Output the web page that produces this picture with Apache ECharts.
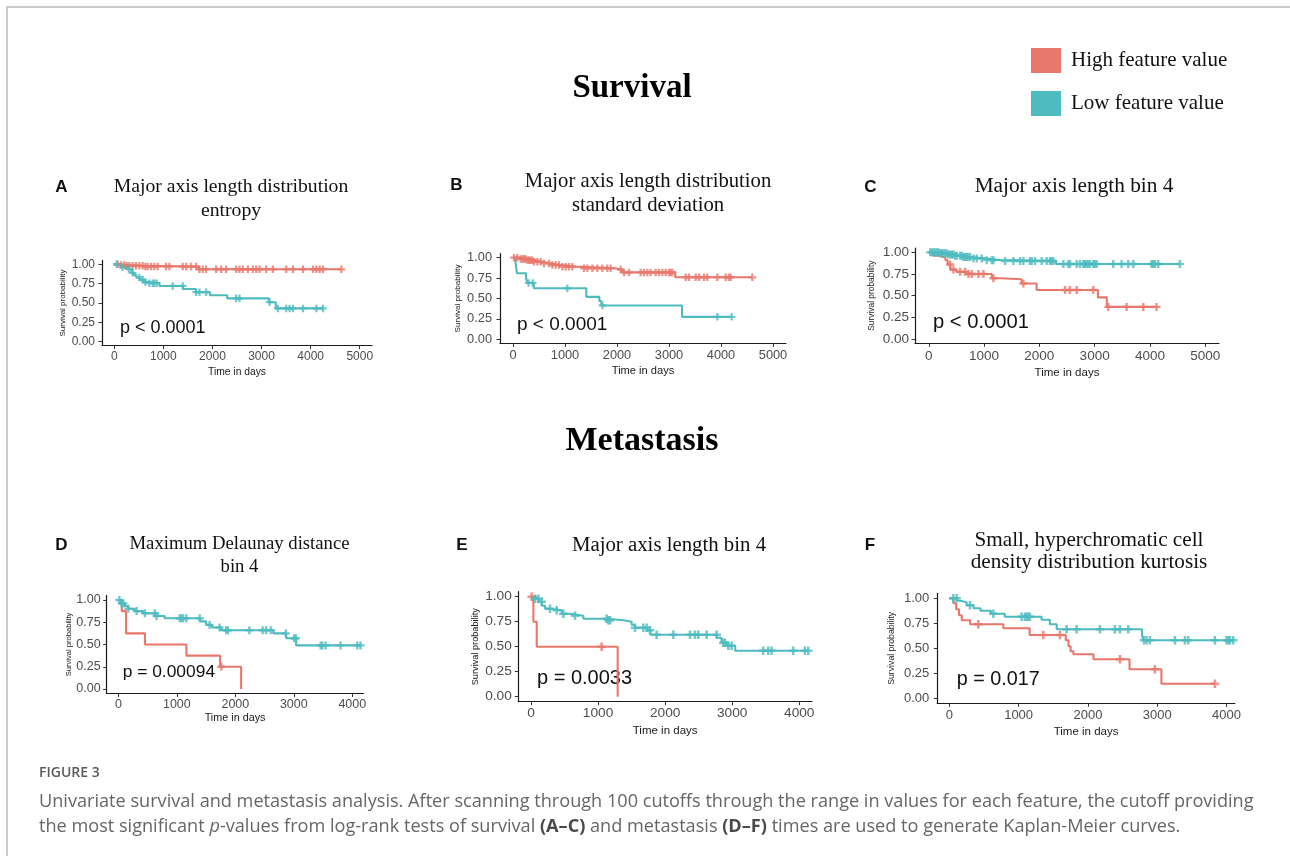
<!DOCTYPE html>
<html><head><meta charset="utf-8">
<script src="https://cdn.jsdelivr.net/npm/echarts@6/dist/echarts.min.js"></script>
<style>html,body{margin:0;padding:0;background:#fff}#c{width:1290px;height:856px}</style>
</head><body><div id="c"></div><script>
// ---------- names, ticks ----------
const HIGH_NAME = 'High feature value';
const LOW_NAME = 'Low feature value';
const xTicks5000 = [0, 1000, 2000, 3000, 4000, 5000];
const xTicks4000 = [0, 1000, 2000, 3000, 4000];
const yTicks = [0, 0.25, 0.5, 0.75, 1];
const pLabels = ['p < 0.0001', 'p < 0.0001', 'p < 0.0001', 'p = 0.00094', 'p = 0.0033', 'p = 0.017'];
const panelLetters = ['A', 'B', 'C', 'D', 'E', 'F'];
const panelTitles = [
  'Major axis length distribution\nentropy',
  'Major axis length distribution\nstandard deviation',
  'Major axis length bin 4',
  'Maximum Delaunay distance\nbin 4',
  'Major axis length bin 4',
  'Small, hyperchromatic cell\ndensity distribution kurtosis'
];

// ---------- Kaplan-Meier steps [time, survival] and censor times ----------
// A
const A_high = [[0,1],[100,0.99],[250,0.98],[600,0.97],[1720,0.935],[4626,0.935]];
const A_high_cens = [68,136,204,252,306,374,442,510,578,633,680,748,816,884,1054,1122,1395,1463,1565,1667,1735,1803,1871,2075,2177,2279,2483,2551,2619,2721,2823,2891,2959,3095,3231,3503,3639,3844,4048,4116,4184,4252,4626];
const A_low = [[0,1],[80,0.98],[150,0.96],[230,0.94],[300,0.92],[350,0.89],[400,0.86],[450,0.83],[520,0.80],[600,0.77],[700,0.755],[920,0.72],[1400,0.68],[1660,0.64],[1950,0.60],[2300,0.56],[3150,0.51],[3290,0.43],[4252,0.43]];
const A_low_cens = [48,170,293,374,510,578,633,714,782,816,864,1190,1395,1667,1735,1871,2483,2551,3163,3333,3503,3571,3639,3844,4116,4252];
// B
const B_high = [[0,1],[120,0.985],[250,0.97],[400,0.95],[550,0.93],[700,0.91],[900,0.89],[1200,0.87],[1950,0.855],[2100,0.82],[3120,0.76],[4603,0.76]];
const B_high_cens = [19,83,147,179,212,244,276,308,340,372,404,468,532,596,692,756,821,885,949,1013,1077,1141,1365,1429,1526,1622,1718,1814,1878,2071,2135,2231,2455,2519,2583,2647,2744,2808,2872,2936,3000,3032,3064,3321,3385,3513,3577,3673,3737,3929,4090,4154,4186,4603];
const B_low = [[0,1],[50,0.94],[75,0.81],[250,0.75],[280,0.69],[400,0.625],[1410,0.52],[1660,0.47],[1700,0.415],[3250,0.275],[4205,0.275]];
const B_low_cens = [300,380,1045,1720,3930,4205];
// C
const C_high = [[0,1],[80,0.96],[180,0.94],[300,0.91],[340,0.86],[390,0.80],[500,0.775],[680,0.75],[1140,0.70],[1300,0.69],[1680,0.64],[1950,0.565],[3060,0.48],[3220,0.37],[4120,0.37]];
const C_high_cens = [386,446,566,657,717,777,898,988,1169,1711,2464,2554,2675,2976,3247,3578,3880,4120];
const C_low = [[0,1],[200,0.99],[350,0.975],[450,0.96],[600,0.945],[750,0.93],[1000,0.91],[1300,0.90],[2300,0.865],[4542,0.865]];
const C_low_cens = [24,54,84,114,145,175,205,235,265,295,325,355,386,416,446,476,506,566,596,627,657,687,717,747,807,867,958,1048,1139,1169,1380,1530,1651,1711,1831,1861,1922,2042,2133,2193,2223,2253,2434,2524,2554,2675,2735,2795,2825,2855,2886,2916,2976,3006,3036,3337,3488,3608,3699,4030,4060,4090,4151,4542];
// D
const D_high = [[0,1],[57,0.875],[130,0.625],[454,0.5],[1163,0.375],[1740,0.25],[2099,0]];
const D_high_cens = [1760];
const D_low = [[0,1],[50,0.96],[110,0.93],[170,0.90],[280,0.875],[420,0.85],[640,0.82],[790,0.795],[1400,0.76],[1500,0.72],[1600,0.69],[1750,0.66],[2650,0.625],[2870,0.57],[3040,0.49],[4141,0.49]];
const D_low_cens = [17,57,85,170,312,454,624,652,1049,1077,1106,1163,1390,1560,1730,1843,1872,2240,2467,2524,2609,2864,3006,3035,3460,3488,3545,3800,4084,4141];
// E
const E_high = [[0,1],[35,0.75],[85,0.5],[1292,0]];
const E_high_cens = [10,1053];
const E_low = [[0,1],[60,0.98],[110,0.95],[160,0.91],[210,0.88],[285,0.865],[460,0.83],[580,0.81],[780,0.78],[1130,0.765],[1380,0.75],[1500,0.72],[1550,0.69],[1730,0.665],[1780,0.62],[2770,0.59],[2840,0.54],[2920,0.51],[3045,0.46],[4134,0.46]];
const E_low_cens = [60,109,159,283,383,482,656,1128,1153,1178,1550,1675,1724,1774,1873,2122,2370,2445,2495,2619,2768,2867,2892,2942,2991,3463,3537,3587,3910,4084,4134];
// F
const F_high = [[0,1],[60,0.95],[100,0.89],[140,0.83],[180,0.78],[300,0.74],[780,0.70],[1160,0.633],[1680,0.58],[1720,0.52],[1750,0.47],[1790,0.44],[2080,0.39],[2600,0.29],[3060,0.145],[3832,0.145]];
const F_high_cens = [418,1356,1596,2462,2966,3832];
const F_low = [[0,1],[110,0.975],[160,0.96],[250,0.93],[350,0.9],[450,0.875],[600,0.845],[800,0.815],[1330,0.785],[1450,0.74],[1550,0.69],[2780,0.63],[2800,0.58],[4096,0.58]];
const F_low_cens = [58,106,298,635,1043,1091,1115,1139,1163,1692,1837,2173,2389,2462,2582,2810,2846,2894,3255,3399,3447,3832,4000,4024,4048,4096];

const panelData = [
  [A_high, A_high_cens, A_low, A_low_cens],
  [B_high, B_high_cens, B_low, B_low_cens],
  [C_high, C_high_cens, C_low, C_low_cens],
  [D_high, D_high_cens, D_low, D_low_cens],
  [E_high, E_high_cens, E_low, E_low_cens],
  [F_high, F_high_cens, F_low, F_low_cens]
];

// ---------- styles & layout ----------
const RED = '#E8776C', TEAL = '#4DBBBF';
const SANS = '"Liberation Sans", Arial, sans-serif';
const SERIF = '"Liberation Serif", "Times New Roman", serif';
const CAP = '"Open Sans", "Noto Sans", sans-serif';
const PLUS = 'path://M-0.3,-1H0.3V-0.3H1V0.3H0.3V1H-0.3V0.3H-1V-0.3H-0.3Z';

const layouts = [
  {left:102,  top:260.4, width:270,   height:85.2, xMin:-250, xMax:5250, xt:xTicks5000, tick:12,   xName:10.3, xNameGap:22,   xMargin:5, yName:8,   yNameGap:35, yMargin:7, p:18, px:120,   py:328,   ls:[61.5,187], tf:19.7, tx:231,  ty:199,  lh:24, sym:7.5},
  {left:500,  top:253.6, width:286,   height:89.8, xMin:-250, xMax:5250, xt:xTicks5000, tick:12.8, xName:11.1, xNameGap:22.5, xMargin:6, yName:8.1, yNameGap:38, yMargin:8, p:19,   px:517,   py:325,   ls:[456.5,185], tf:20.7, tx:648, ty:194,  lh:24, sym:7.5},
  {left:915,  top:248,   width:304,   height:95.3, xMin:-250, xMax:5250, xt:xTicks5000, tick:13.5, xName:11.5, xNameGap:23.5, xMargin:6, yName:8.4, yNameGap:39, yMargin:6, p:20.2, px:933,   py:322.7, ls:[870.5,187], tf:21.3, tx:1074, ty:186,  lh:24, sym:8},
  {left:106.7,top:595.5, width:256.7, height:98,   xMin:-200, xMax:4190, xt:xTicks4000, tick:12.5, xName:10.8, xNameGap:19,   xMargin:4.5, yName:7.6, yNameGap:33.6, yMargin:6, p:17.4, px:122.7, py:672, ls:[61.5,545], tf:18.7, tx:239.5, ty:555.5, lh:23, sym:8},
  {left:518.3,top:591.7, width:293.7, height:110,  xMin:-190, xMax:4190, xt:xTicks4000, tick:13.7, xName:11.5, xNameGap:23.3, xMargin:5, yName:9.2, yNameGap:38.4, yMargin:6.5, p:20, px:537, py:678.3, ls:[462,545], tf:20.8, tx:669, ty:546, lh:23, sym:8.5},
  {left:937.3,top:593.3, width:297.6, height:110,  xMin:-173, xMax:4120, xt:xTicks4000, tick:13,   xName:11.5, xNameGap:22.7, xMargin:6, yName:8.7, yNameGap:41, yMargin:8, p:19.8, px:956.7, py:680, ls:[870,545], tf:21.2, tx:1089, ty:551, lh:22, sym:8.5}
];

function survAt(steps, t) {
  let s = steps[0][1];
  for (const [x, y] of steps) { if (x <= t) s = y; else break; }
  return s;
}

const grids = [], xAxes = [], yAxes = [], series = [], texts = [];
layouts.forEach((L, i) => {
  const [high, highC, low, lowC] = panelData[i];
  grids.push({left: L.left, top: L.top, width: L.width, height: L.height});
  xAxes.push({
    type: 'value', gridIndex: i, min: L.xMin, max: L.xMax,
    axisLine: {onZero: false, lineStyle: {color: '#1a1a1a', width: 1.2}},
    axisTick: {customValues: L.xt, length: 3.5, lineStyle: {color: '#333', width: 1}},
    axisLabel: {customValues: L.xt, margin: L.xMargin, fontSize: L.tick, color: '#4d4d4d', fontFamily: SANS,
      formatter: v => String(Math.round(v))},
    splitLine: {show: false},
    name: 'Time in days', nameLocation: 'middle', nameGap: L.xNameGap,
    nameTextStyle: {fontSize: L.xName, color: '#1a1a1a', fontFamily: SANS}
  });
  yAxes.push({
    type: 'value', gridIndex: i, min: -0.05, max: 1.05,
    axisLine: {show: true, onZero: false, lineStyle: {color: '#1a1a1a', width: 1.2}},
    axisTick: {show: true, customValues: yTicks, length: 3.5, lineStyle: {color: '#333', width: 1}},
    axisLabel: {customValues: yTicks, margin: L.yMargin, fontSize: L.tick, color: '#4d4d4d', fontFamily: SANS,
      formatter: v => Number(v).toFixed(2)},
    splitLine: {show: false},
    name: 'Survival probability', nameLocation: 'middle', nameGap: L.yNameGap, nameRotate: 90,
    nameTextStyle: {fontSize: L.yName, color: '#1a1a1a', fontFamily: SANS}
  });
  const mk = (name, steps, cens, color) => {
    series.push({type: 'line', name, xAxisIndex: i, yAxisIndex: i, step: 'end', data: steps,
      showSymbol: false, symbol: 'none', lineStyle: {color, width: 2.1}, itemStyle: {color}, z: 3, silent: true});
    series.push({type: 'scatter', name: name + ' censored', xAxisIndex: i, yAxisIndex: i,
      data: cens.map(t => [t, survAt(steps, t)]), symbol: PLUS, symbolSize: L.sym,
      itemStyle: {color}, z: 4, silent: true});
  };
  mk(HIGH_NAME, high, highC, RED);
  mk(LOW_NAME, low, lowC, TEAL);

  texts.push({type: 'text', x: L.px, y: L.py, style: {text: pLabels[i], fontSize: L.p, fontFamily: SANS, fill: '#111', align: 'left', verticalAlign: 'middle'}});
  texts.push({type: 'text', x: L.ls[0], y: L.ls[1], style: {text: panelLetters[i], fontSize: 17, fontWeight: 'bold', fontFamily: SANS, fill: '#111', align: 'center', verticalAlign: 'middle'}});
  texts.push({type: 'text', x: L.tx, y: L.ty, style: {text: panelTitles[i], fontSize: L.tf, fontFamily: SERIF, fill: '#111', align: 'center', verticalAlign: 'middle', lineHeight: L.lh}});
});

// caption font fitting
function fitSize(text, family, targetW) {
  const c = document.createElement('canvas').getContext('2d');
  c.font = '100px ' + family;
  return 100 * targetW / c.measureText(text).width;
}
const cap1 = 'Univariate survival and metastasis analysis. After scanning through 100 cutoffs through the range in values for each feature, the cutoff providing';
const capSize = fitSize(cap1, CAP, 1216);
const cap2 = 'the most significant {i|p}-values from log-rank tests of survival {b|(A\u2013C)} and metastasis {b|(D\u2013F)} times are used to generate Kaplan-Meier curves.';
const CAPX = 39, CAPCOL = '#666';

texts.push(
  {type: 'rect', shape: {x: 7, y: 7, width: 1400, height: 1000}, style: {fill: 'none', stroke: '#b8b8b8', lineWidth: 1.4}, silent: true},
  {type: 'text', x: 632, y: 88, style: {text: 'Survival', fontSize: 33, fontWeight: 'bold', fontFamily: SERIF, fill: '#000', align: 'center', verticalAlign: 'middle'}},
  {type: 'text', x: 642, y: 441, style: {text: 'Metastasis', fontSize: 34, fontWeight: 'bold', fontFamily: SERIF, fill: '#000', align: 'center', verticalAlign: 'middle'}},
  {type: 'text', x: CAPX, y: 773, style: {text: 'FIGURE 3', fontSize: 14, fontWeight: 600, fontFamily: CAP, fill: '#5a5a5a', align: 'left', verticalAlign: 'middle'}},
  {type: 'text', x: CAPX, y: 802, style: {text: cap1, fontSize: capSize, fontFamily: CAP, fill: CAPCOL, align: 'left', verticalAlign: 'middle'}},
  {type: 'text', x: CAPX, y: 827, style: {text: cap2, fontSize: capSize, fontFamily: CAP, fill: CAPCOL, align: 'left', verticalAlign: 'middle',
    rich: {
      i: {fontStyle: 'italic', fontSize: capSize, fontFamily: CAP, fill: CAPCOL},
      b: {fontWeight: 'bold', fontSize: capSize, fontFamily: CAP, fill: '#4a4a4a'}
    }}}
);

const chart = echarts.init(document.getElementById('c'), null, {renderer: 'canvas'});
chart.setOption({
  animation: false,
  backgroundColor: '#fff',
  legend: {
    data: [HIGH_NAME, LOW_NAME], orient: 'vertical', left: 1026, top: 43,
    itemWidth: 30, itemHeight: 25, itemGap: 18, icon: 'rect', selectedMode: false,
    textStyle: {fontFamily: SERIF, fontSize: 21, color: '#111', padding: [5, 0, 0, 5]}
  },
  grid: grids, xAxis: xAxes, yAxis: yAxes, series,
  graphic: {elements: texts}
});
</script></body></html>
